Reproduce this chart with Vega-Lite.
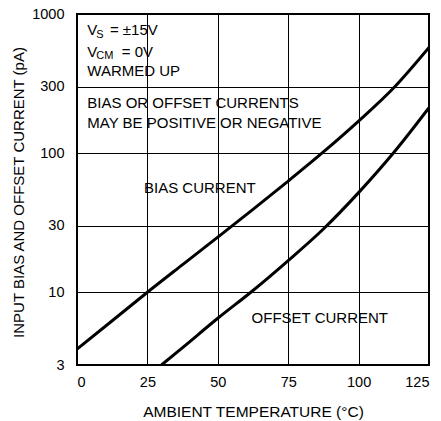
{
  "$schema": "https://vega.github.io/schema/vega-lite/v6.json",
  "width": 352,
  "height": 351,
  "autosize": {"type": "none"},
  "padding": {"left": 77, "top": 14, "right": 12, "bottom": 56},
  "background": "white",
  "config": {
    "font": "Liberation Sans",
    "view": {"stroke": "black", "strokeWidth": 2},
    "axis": {
      "labelFont": "Liberation Sans",
      "titleFont": "Liberation Sans",
      "labelColor": "black",
      "titleColor": "black",
      "titleFontWeight": "normal",
      "labelFontSize": 14.5,
      "titleFontSize": 15,
      "grid": true,
      "gridColor": "black",
      "gridOpacity": 1,
      "gridWidth": 1,
      "domain": false,
      "ticks": false,
      "tickSize": 0
    }
  },
  "datasets": {
    "curves": [
      {"series": "Bias", "temp": 0, "current": 3.9},
      {"series": "Bias", "temp": 12.5, "current": 6.24},
      {"series": "Bias", "temp": 25, "current": 10},
      {"series": "Bias", "temp": 37.5, "current": 15.8},
      {"series": "Bias", "temp": 50, "current": 24.9},
      {"series": "Bias", "temp": 62.5, "current": 39.4},
      {"series": "Bias", "temp": 75, "current": 63},
      {"series": "Bias", "temp": 87.5, "current": 102},
      {"series": "Bias", "temp": 100, "current": 170},
      {"series": "Bias", "temp": 112.5, "current": 295},
      {"series": "Bias", "temp": 125, "current": 575},
      {"series": "Offset", "temp": 30, "current": 3},
      {"series": "Offset", "temp": 37.5, "current": 4.0},
      {"series": "Offset", "temp": 50, "current": 6.5},
      {"series": "Offset", "temp": 62.5, "current": 10.3},
      {"series": "Offset", "temp": 75, "current": 16.9},
      {"series": "Offset", "temp": 87.5, "current": 28.5},
      {"series": "Offset", "temp": 100, "current": 52},
      {"series": "Offset", "temp": 112.5, "current": 101},
      {"series": "Offset", "temp": 125, "current": 212}
    ],
    "labels": [
      {"role": "main", "x": 3.66, "y": 706, "text": "V"},
      {"role": "sub", "x": 6.85, "y": 676, "text": "S"},
      {"role": "main", "x": 11.7, "y": 706, "text": "= ±15V"},
      {"role": "main", "x": 3.66, "y": 493, "text": "V"},
      {"role": "sub", "x": 6.85, "y": 471, "text": "CM"},
      {"role": "main", "x": 15.9, "y": 493, "text": "= 0V"},
      {"role": "main", "x": 3.66, "y": 358, "text": "WARMED UP"},
      {"role": "main", "x": 3.66, "y": 210, "text": "BIAS OR OFFSET CURRENTS"},
      {"role": "main", "x": 3.66, "y": 151, "text": "MAY BE POSITIVE OR NEGATIVE"},
      {"role": "main", "x": 23.8, "y": 52, "text": "BIAS CURRENT"},
      {"role": "main", "x": 62.0, "y": 5.98, "text": "OFFSET CURRENT"}
    ]
  },
  "layer": [
    {
      "data": {"name": "curves"},
      "mark": {"type": "line", "color": "black", "strokeWidth": 3, "interpolate": "monotone", "clip": true},
      "encoding": {
        "x": {
          "field": "temp",
          "type": "quantitative",
          "scale": {"domain": [0, 125], "nice": false, "zero": false},
          "axis": {
            "values": [0, 25, 50, 75, 100, 125],
            "title": "AMBIENT TEMPERATURE (°C)",
            "labelPadding": 10,
            "titleFontSize": 15.5,
            "titleBaseline": "alphabetic",
            "titleY": 51
          }
        },
        "y": {
          "field": "current",
          "type": "quantitative",
          "scale": {"type": "log", "domain": [3, 1000], "nice": false},
          "axis": {
            "values": [3, 10, 30, 100, 300, 1000],
            "format": "d",
            "title": "INPUT BIAS AND OFFSET CURRENT (pA)",
            "labelPadding": 13,
            "titleBaseline": "alphabetic",
            "titleX": -54,
            "titleY": 178
          }
        },
        "detail": {"field": "series"}
      }
    },
    {
      "data": {"name": "labels"},
      "transform": [{"filter": "datum.role === 'main'"}],
      "mark": {"type": "text", "align": "left", "baseline": "alphabetic", "fontSize": 15, "color": "black", "font": "Liberation Sans"},
      "encoding": {
        "x": {"field": "x", "type": "quantitative"},
        "y": {"field": "y", "type": "quantitative"},
        "text": {"field": "text"}
      }
    },
    {
      "data": {"name": "labels"},
      "transform": [{"filter": "datum.role === 'sub'"}],
      "mark": {"type": "text", "align": "left", "baseline": "alphabetic", "fontSize": 11, "color": "black", "font": "Liberation Sans"},
      "encoding": {
        "x": {"field": "x", "type": "quantitative"},
        "y": {"field": "y", "type": "quantitative"},
        "text": {"field": "text"}
      }
    }
  ]
}
